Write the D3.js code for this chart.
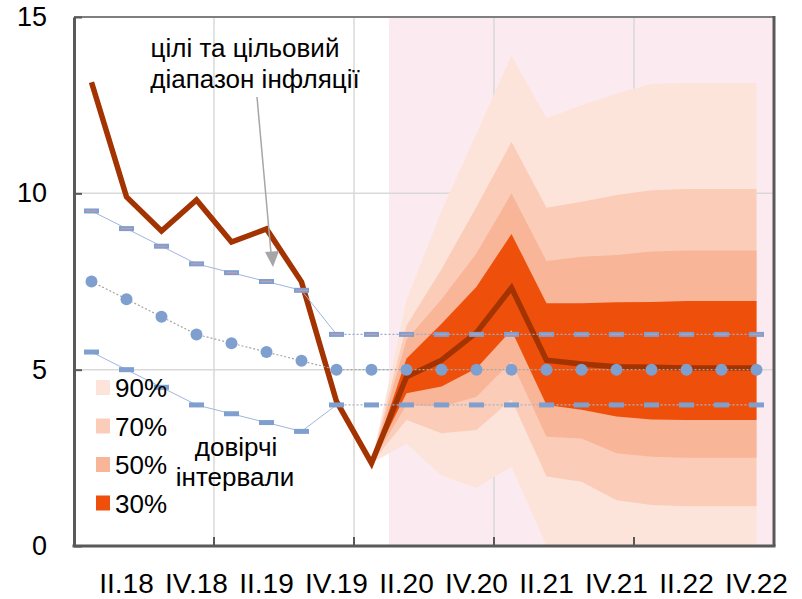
<!DOCTYPE html>
<html>
<head>
<meta charset="utf-8">
<script src="https://cdn.jsdelivr.net/npm/d3@7"></script>
<style>
  html, body { margin: 0; padding: 0; background: #fff; }
  svg { display: block; font-family: "Liberation Sans", Arial, sans-serif; }
</style>
</head>
<body>
<svg id="chart" width="802" height="599"></svg>
<script>
// квартали
const quarters = ['I.18','II.18','III.18','IV.18','I.19','II.19','III.19','IV.19',
                  'I.20','II.20','III.20','IV.20','I.21','II.21','III.21','IV.21',
                  'I.22','II.22','III.22','IV.22'];
const tickLabels = ['II.18','IV.18','II.19','IV.19','II.20','IV.20','II.21','IV.21','II.22','IV.22'];
const yTicks = [0, 5, 10, 15];

// фактична інфляція + базовий прогноз
const inflation = [13.15, 9.9, 8.93, 9.81, 8.62, 8.99, 7.49, 4.1, 2.35,
                   4.8, 5.27, 6.05, 7.32, 5.27, 5.16, 5.08, 5.07, 5.05, 5.05, 5.05];

// цілі та діапазон
const target      = [7.5, 7, 6.5, 6, 5.75, 5.5, 5.25, 5, 5, 5, 5, 5, 5, 5, 5, 5, 5, 5, 5, 5];
const targetUpper = [9.5, 9, 8.5, 8, 7.75, 7.5, 7.25, 6, 6, 6, 6, 6, 6, 6, 6, 6, 6, 6, 6, 6];
const targetLower = [5.5, 5, 4.5, 4, 3.75, 3.5, 3.25, 4, 4, 4, 4, 4, 4, 4, 4, 4, 4, 4, 4, 4];

// віяло (з I.20 по IV.22)
const fanQuarters = quarters.slice(8);
const fan90lo = [2.35, 2.9, 2.0, 1.65, 2.25, 0.0, -0.3, -0.3, -0.3, -0.3, -0.3, -0.3];
const fan90hi = [2.35, 6.97, 9.5, 11.7, 13.9, 12.13, 12.5, 12.83, 13.1, 13.13, 13.13, 13.13];
const fan70lo = [2.35, 3.57, 3.2, 3.29, 4.15, 1.97, 1.82, 1.3, 1.16, 1.13, 1.13, 1.13];
const fan70hi = [2.35, 6.25, 7.85, 9.62, 11.46, 9.59, 9.76, 9.95, 10.09, 10.12, 10.12, 10.12];
const fan50lo = [2.35, 4.0, 3.95, 4.23, 5.23, 3.1, 3.05, 2.63, 2.53, 2.5, 2.5, 2.5];
const fan50hi = [2.35, 5.85, 7.0, 8.3, 10.0, 8.08, 8.2, 8.25, 8.35, 8.38, 8.38, 8.38];
const fan30lo = [2.35, 4.33, 4.52, 5.04, 6.12, 4.0, 3.86, 3.67, 3.59, 3.57, 3.57, 3.57];
const fan30hi = [2.35, 5.32, 6.3, 7.35, 8.85, 6.88, 6.88, 6.91, 6.92, 6.95, 6.95, 6.95];

const bands = [
  { name: '90%', lo: fan90lo, hi: fan90hi, color: '#fde4da' },
  { name: '70%', lo: fan70lo, hi: fan70hi, color: '#fbcdb9' },
  { name: '50%', lo: fan50lo, hi: fan50hi, color: '#f9b597' },
  { name: '30%', lo: fan30lo, hi: fan30hi, color: '#ee500c' }
];

const m = { left: 74, right: 28, top: 17, bottom: 53 };
const W = 802, H = 599;
const svg = d3.select('#chart');

const x = d3.scaleBand().domain(quarters).range([m.left, W - m.right]);
const cx = q => x(q) + x.bandwidth() / 2;
const y = d3.scaleLinear().domain([0, 15]).range([H - m.bottom, m.top]);

svg.append('defs').append('clipPath').attr('id', 'plot')
  .append('rect')
  .attr('x', m.left).attr('y', m.top)
  .attr('width', W - m.left - m.right).attr('height', y(0) - m.top);

// рожевий фон прогнозу
svg.append('rect')
  .attr('x', x('II.20')).attr('y', m.top)
  .attr('width', W - m.right - x('II.20')).attr('height', y(0) - m.top)
  .attr('fill', '#fbeaf0');

// сітка
const yearStarts = quarters.filter((q, i) => i > 0 && q.startsWith('I.'));
svg.append('g').selectAll('line').data(yTicks.slice(1, -1)).enter().append('line')
  .attr('x1', m.left).attr('x2', W - m.right)
  .attr('y1', d => y(d)).attr('y2', d => y(d))
  .attr('stroke', '#d9d9d9').attr('stroke-width', 1.5);
svg.append('g').selectAll('line').data(yearStarts).enter().append('line')
  .attr('x1', d => x(d)).attr('x2', d => x(d))
  .attr('y1', m.top).attr('y2', y(0))
  .attr('stroke', '#d9d9d9').attr('stroke-width', 1.5);

// віяло
const fanG = svg.append('g').attr('clip-path', 'url(#plot)');
bands.forEach(b => {
  const area = d3.area()
    .x((d, i) => cx(fanQuarters[i]))
    .y0((d, i) => y(b.lo[i]))
    .y1((d, i) => y(b.hi[i]));
  fanG.append('path').datum(fanQuarters)
    .attr('d', area).attr('fill', b.color);
});

// інфляція
const line = d3.line().x((d, i) => cx(quarters[i])).y(d => y(d));
svg.append('path').datum(inflation)
  .attr('d', line).attr('fill', 'none')
  .attr('stroke', '#a33300').attr('stroke-width', 5.5)
  .attr('stroke-linejoin', 'miter');

// цілі
const histEnd = quarters.indexOf('IV.19');
function targetLine(vals, histColor, fcColor) {
  svg.append('path').datum(vals.slice(0, histEnd + 1))
    .attr('d', line).attr('fill', 'none')
    .attr('stroke', histColor).attr('stroke-width', 1);
  const fl = d3.line().x((d, i) => cx(quarters[i + histEnd])).y(d => y(d));
  svg.append('path').datum(vals.slice(histEnd))
    .attr('d', fl).attr('fill', 'none')
    .attr('stroke', fcColor).attr('stroke-width', 1.2)
    .attr('stroke-dasharray', '2,2');
}
targetLine(targetUpper, '#9fb6de', '#98abcc');
targetLine(targetLower, '#9fb6de', '#aab3c4');

svg.append('path').datum(target)
  .attr('d', line).attr('fill', 'none')
  .attr('stroke', '#a6a6a6').attr('stroke-width', 1.2)
  .attr('stroke-dasharray', '2,2');

// маркери
const blue = '#7f9fcf';
svg.append('g').selectAll('rect').data(targetUpper).enter().append('rect')
  .attr('x', (d, i) => cx(quarters[i]) - 7.5).attr('y', d => y(d) - 2.5)
  .attr('width', 15).attr('height', 5).attr('fill', blue);
svg.append('g').selectAll('line').data(targetUpper).enter().append('line')
  .attr('x1', (d, i) => cx(quarters[i]) - 5.5).attr('x2', (d, i) => cx(quarters[i]) + 5.5)
  .attr('y1', d => y(d)).attr('y2', d => y(d))
  .attr('stroke', '#d49aa6').attr('stroke-width', 1);
svg.append('g').selectAll('rect').data(targetLower).enter().append('rect')
  .attr('x', (d, i) => cx(quarters[i]) - 7.5).attr('y', d => y(d) - 2.5)
  .attr('width', 15).attr('height', 5).attr('fill', blue);
svg.append('g').selectAll('circle').data(target).enter().append('circle')
  .attr('cx', (d, i) => cx(quarters[i])).attr('cy', d => y(d))
  .attr('r', 6).attr('fill', blue);

// рамка
svg.append('line').attr('x1', m.left).attr('x2', W - m.right)
  .attr('y1', m.top).attr('y2', m.top)
  .attr('stroke', '#7f7f7f').attr('stroke-width', 2);
svg.append('line').attr('x1', W - m.right).attr('x2', W - m.right)
  .attr('y1', m.top - 1).attr('y2', y(0))
  .attr('stroke', '#595959').attr('stroke-width', 3);

// осі
const yAxis = svg.append('g')
  .attr('transform', `translate(${m.left},0)`)
  .call(d3.axisLeft(y).tickValues(yTicks).tickSizeInner(-8).tickSizeOuter(0).tickPadding(27));
yAxis.select('.domain').attr('stroke', '#595959').attr('stroke-width', 3);
yAxis.selectAll('.tick line').attr('stroke', '#595959').attr('stroke-width', 2);
yAxis.selectAll('text').attr('font-size', 27).attr('fill', '#000')
  .attr('font-family', '"Liberation Sans", Arial, sans-serif');

const xAxis = svg.append('g')
  .attr('transform', `translate(0,${y(0)})`)
  .call(d3.axisBottom(x).tickValues(tickLabels).tickSize(0).tickPadding(27));
xAxis.select('.domain').remove();
xAxis.selectAll('text').attr('font-size', 28).attr('fill', '#000')
  .attr('font-family', '"Liberation Sans", Arial, sans-serif');
svg.append('line').attr('x1', m.left - 1.5).attr('x2', W - m.right + 1.5)
  .attr('y1', y(0)).attr('y2', y(0))
  .attr('stroke', '#595959').attr('stroke-width', 3);
svg.append('g').selectAll('line').data(yearStarts).enter().append('line')
  .attr('x1', d => x(d)).attr('x2', d => x(d))
  .attr('y1', y(0)).attr('y2', y(0) - 9)
  .attr('stroke', '#595959').attr('stroke-width', 2);

// анотація
const ann = svg.append('text').attr('font-size', 26).attr('text-anchor', 'middle');
ann.append('tspan').attr('x', 245).attr('y', 57).text('цілі та цільовий');
ann.append('tspan').attr('x', 255).attr('y', 88).text('діапазон інфляції');
svg.append('line').attr('x1', 257).attr('y1', 97).attr('x2', 271).attr('y2', 253)
  .attr('stroke', '#a6a6a6').attr('stroke-width', 1.5);
svg.append('path').attr('d', 'M265,252 L279,251 L273,267 Z').attr('fill', '#a6a6a6');

// легенда
const leg = svg.append('g').selectAll('g').data(bands).enter().append('g')
  .attr('transform', (d, i) => `translate(96,${380 + i * 38.5})`);
leg.append('rect').attr('width', 14).attr('height', 15).attr('fill', d => d.color);
leg.append('text').attr('x', 19).attr('y', 17).attr('font-size', 26).text(d => d.name);

const leg2 = svg.append('text').attr('font-size', 26).attr('text-anchor', 'middle');
leg2.append('tspan').attr('x', 236).attr('y', 456).text('довірчі');
leg2.append('tspan').attr('x', 235).attr('y', 486).text('інтервали');
</script>
</body>
</html>
